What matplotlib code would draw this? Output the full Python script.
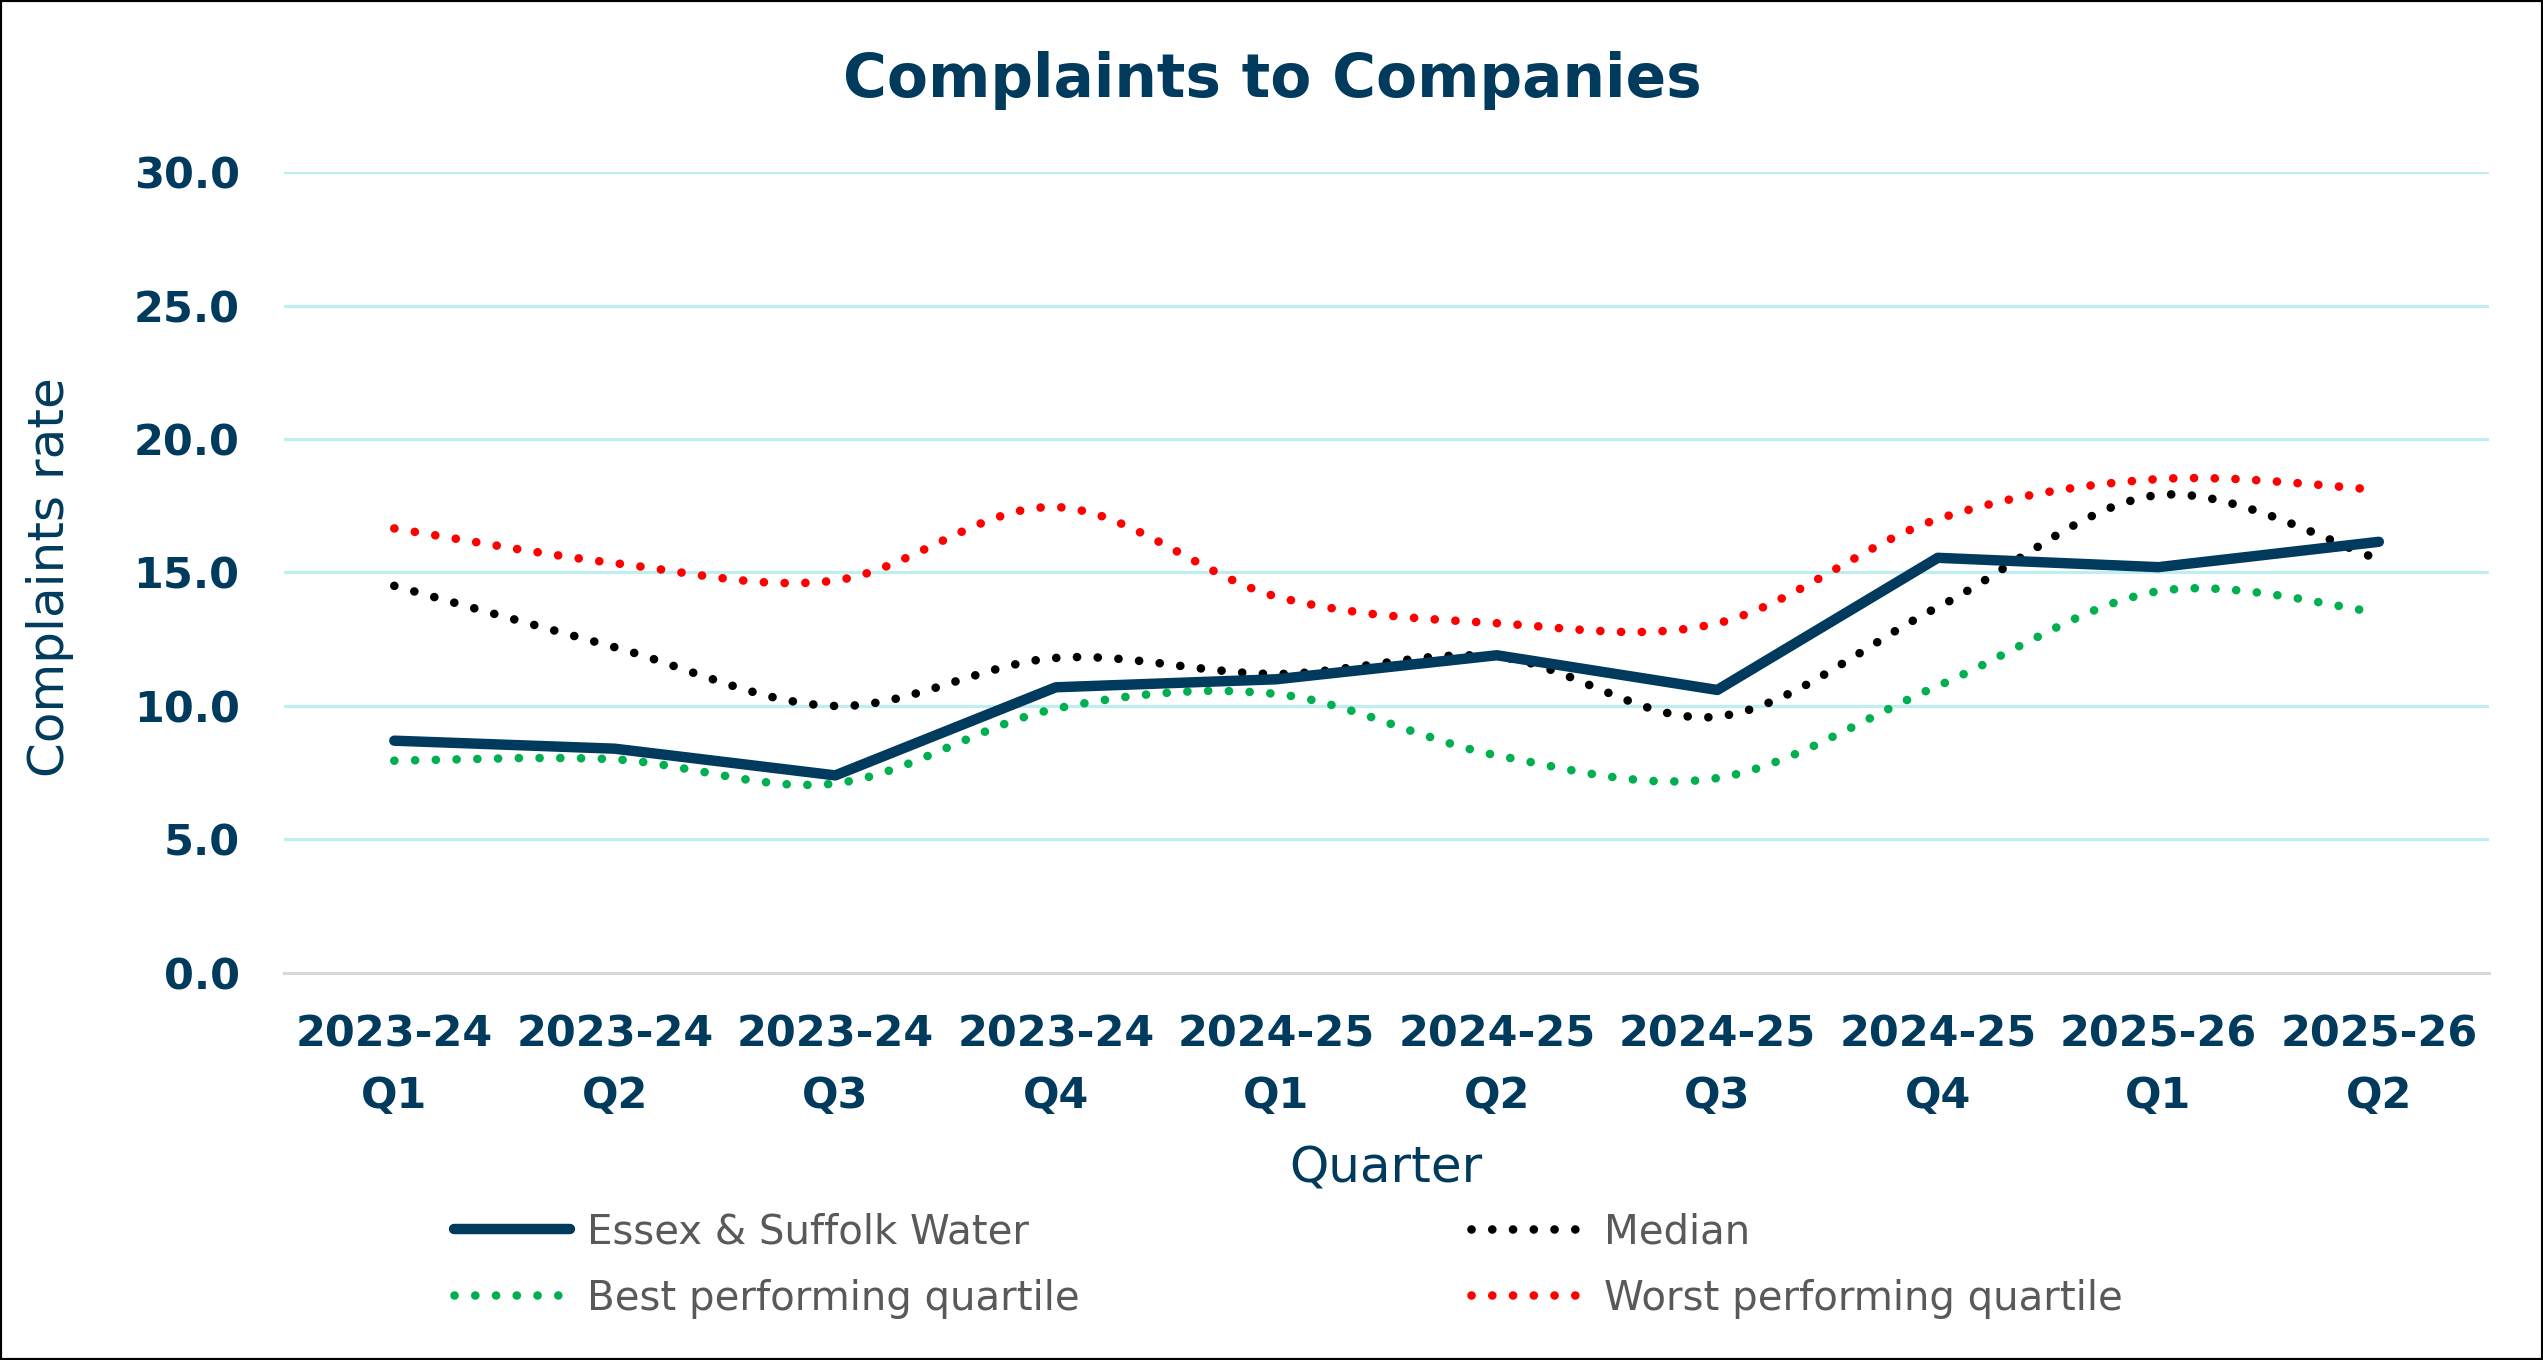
import numpy as np
import matplotlib
matplotlib.use("Agg")
import matplotlib.pyplot as plt
from matplotlib.path import Path
from matplotlib.patches import PathPatch, Rectangle
from matplotlib.lines import Line2D

# Data
quarters = ["2023-24\nQ1", "2023-24\nQ2", "2023-24\nQ3", "2023-24\nQ4",
            "2024-25\nQ1", "2024-25\nQ2", "2024-25\nQ3", "2024-25\nQ4",
            "2025-26\nQ1", "2025-26\nQ2"]
essex = [8.7, 8.4, 7.4, 10.7, 11.0, 11.9, 10.6, 15.55, 15.2, 16.15]
median = [14.5, 12.2, 10.0, 11.8, 11.2, 11.85, 9.6, 13.7, 17.9, 15.5]
best = [7.95, 8.0, 7.1, 9.9, 10.45, 8.15, 7.3, 10.75, 14.3, 13.5]
worst = [16.65, 15.35, 14.7, 17.45, 14.1, 13.1, 13.1, 17.0, 18.5, 18.1]

navy = "#003A5D"
grid_col = "#BDEEF2"

plt.rcParams['font.family'] = ['DejaVu Sans']


def smooth_path(xs, ys):
    # Excel-style smoothed line: cubic bezier through every point
    pts = np.column_stack([xs, ys]).astype(float)
    n = len(pts)
    verts = [pts[0]]
    codes = [Path.MOVETO]
    for i in range(n - 1):
        p0 = pts[i - 1] if i > 0 else pts[i]
        p1 = pts[i]
        p2 = pts[i + 1]
        p3 = pts[i + 2] if i + 2 < n else pts[i + 1]
        verts += [p1 + (p2 - p0) / 6, p2 - (p3 - p1) / 6, p2]
        codes += [Path.CURVE4] * 3
    return Path(verts, codes)


fig = plt.figure(figsize=(25.43, 13.60), dpi=100)
ax = fig.add_axes([0.1117, 0.2846, 0.8671, 0.5889])

x = np.arange(len(quarters))
dot_style = (0, (0.01, 2.4))
dot_lw = 6.2
essex_lw = 7.5

for series, col in [(median, "black"), (best, "#00B050"), (worst, "#FF0000")]:
    ax.add_patch(PathPatch(smooth_path(x, series), fill=False, edgecolor=col,
                           lw=dot_lw, linestyle=dot_style, capstyle="round", zorder=3))

ax.plot(x, essex, color=navy, lw=essex_lw, solid_capstyle="round", solid_joinstyle="round", zorder=4)

ax.set_xlim(-0.5, len(quarters) - 0.5)
ax.set_ylim(0, 30)
ax.set_yticks(np.arange(0, 31, 5))
ax.set_yticklabels([f"{v:.1f}" for v in np.arange(0, 31, 5)])
ax.set_xticks(x)
ax.set_xticklabels(quarters, linespacing=1.6)

ax.grid(axis="y", color=grid_col, lw=2.2, zorder=0)
ax.set_axisbelow(True)
for s in ["top", "right", "left"]:
    ax.spines[s].set_visible(False)
ax.spines["bottom"].set_color("#D9D9D9")
ax.spines["bottom"].set_linewidth(2.2)
ax.tick_params(axis="both", length=0, colors=navy, labelsize=31)
ax.tick_params(axis="y", pad=32)
ax.tick_params(axis="x", pad=29)
for lab in ax.get_xticklabels() + ax.get_yticklabels():
    lab.set_fontweight("bold")

fig.text(0.5005, 0.941, "Complaints to Companies", ha="center", va="center",
         fontsize=43, fontweight="bold", color=navy)
fig.text(0.545, 0.141, "Quarter", ha="center", va="center", fontsize=36, color=navy)
fig.text(0.0195, 0.576, "Complaints rate", ha="center", va="center", rotation=90,
         fontsize=36, color=navy)

handles = [
    Line2D([], [], color=navy, lw=essex_lw, solid_capstyle="round"),
    Line2D([], [], color="#00B050", lw=dot_lw, linestyle=dot_style, dash_capstyle="round"),
    Line2D([], [], color="black", lw=dot_lw, linestyle=dot_style, dash_capstyle="round"),
    Line2D([], [], color="#FF0000", lw=dot_lw, linestyle=dot_style, dash_capstyle="round"),
]
labels = ["Essex & Suffolk Water", "Best performing quartile", "Median",
          "Worst performing quartile"]
leg = fig.legend(handles, labels, ncol=2, loc="center left",
                 bbox_to_anchor=(0.172, 0.0695), frameon=False, fontsize=29,
                 handlelength=2.9, handletextpad=0.42, columnspacing=9.7,
                 labelspacing=0.65, borderaxespad=0)
for t in leg.get_texts():
    t.set_color("#595959")

fig.add_artist(Rectangle((0, 0), 1, 1, transform=fig.transFigure, fill=False,
                         edgecolor="black", lw=3))

fig.savefig("out.png", dpi=100)
